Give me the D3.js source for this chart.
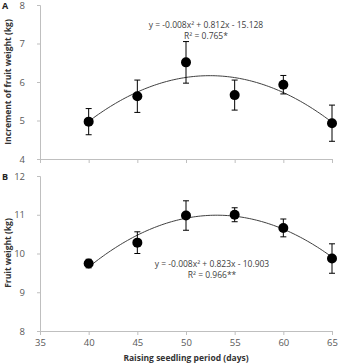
<!DOCTYPE html>
<html>
<head>
<meta charset="utf-8">
<script src="https://cdn.jsdelivr.net/npm/d3@7"></script>
<style>
  body { margin: 0; background: #fff; }
  text { font-family: "Open Sans", "Liberation Sans", sans-serif; }
</style>
</head>
<body>
<svg id="chart" width="341" height="364"></svg>
<script>
// seedling period (days)
let days = [40, 45, 50, 55, 60, 65];
let xTicks = [35, 40, 45, 50, 55, 60, 65];

// panel A: increment of fruit weight (kg)
let incMean = [4.97, 5.63, 6.51, 5.66, 5.93, 4.93];
let incErr = [0.34, 0.42, 0.54, 0.39, 0.24, 0.47];
let incTicks = [4, 5, 6, 7, 8];

// panel B: fruit weight (kg)
let fwMean = [9.74, 10.28, 10.98, 11.0, 10.66, 9.87];
let fwErr = [0.11, 0.28, 0.38, 0.18, 0.23, 0.38];
let fwTicks = [8, 9, 10, 11, 12];

let svg = d3.select("#chart");
let axisColor = "#bfbfbf";
let labelColor = "#595959";

let x = d3.scaleLinear().domain([35, 65]).range([40, 332]);

// least squares quadratic (trend line of the excel chart)
let quadFit = function (xs, ys) {
  let n = xs.length;
  let s = [0, 0, 0, 0, 0], t = [0, 0, 0];
  for (let i = 0; i < n; i++) {
    let p = 1;
    for (let k = 0; k < 5; k++) { s[k] += p; if (k < 3) t[k] += p * ys[i]; p *= xs[i]; }
  }
  // solve 3x3 normal equations
  let m = [
    [s[0], s[1], s[2], t[0]],
    [s[1], s[2], s[3], t[1]],
    [s[2], s[3], s[4], t[2]]
  ];
  for (let c = 0; c < 3; c++) {
    for (let r = c + 1; r < 3; r++) {
      let f = m[r][c] / m[c][c];
      for (let k = c; k < 4; k++) m[r][k] -= f * m[c][k];
    }
  }
  let coef = [0, 0, 0];
  for (let r = 2; r >= 0; r--) {
    let v = m[r][3];
    for (let k = r + 1; k < 3; k++) v -= m[r][k] * coef[k];
    coef[r] = v / m[r][r];
  }
  return function (v) { return coef[0] + coef[1] * v + coef[2] * v * v; };
};

let drawPanel = function (opts) {
  let y = d3.scaleLinear().domain(opts.domain).range(opts.range);
  let g = svg.append("g");

  // y axis
  let yAxis = g.append("g")
    .attr("transform", "translate(" + x(35) + ",0)")
    .call(d3.axisLeft(y).tickValues(opts.yTicks).tickSize(3).tickPadding(12).tickFormat(d3.format("d")));
  yAxis.select(".domain").attr("stroke", axisColor);
  yAxis.selectAll(".tick line").attr("stroke", axisColor);
  yAxis.selectAll(".tick text").attr("fill", labelColor).style("font-size", "9.5px");

  // x axis
  let xAxis = g.append("g")
    .attr("transform", "translate(0," + y(opts.domain[0]) + ")")
    .call(d3.axisBottom(x).tickValues(xTicks).tickSize(4).tickSizeOuter(0).tickPadding(4)
      .tickFormat(opts.showX ? d3.format("d") : ""));
  xAxis.select(".domain").attr("stroke", axisColor);
  xAxis.selectAll(".tick line").attr("stroke", axisColor);
  xAxis.selectAll(".tick text").attr("fill", labelColor).style("font-size", "9.5px");

  // trend line
  let fit = quadFit(days, opts.mean);
  let pts = d3.range(40, 65.01, 0.25);
  g.append("path")
    .datum(pts)
    .attr("fill", "none")
    .attr("stroke", "#404040")
    .attr("stroke-width", 1)
    .attr("d", d3.line().x(function (d) { return x(d); }).y(function (d) { return y(fit(d)); }));

  // error bars
  let eb = g.selectAll(".eb").data(days).enter().append("g").attr("class", "eb");
  eb.append("line")
    .attr("x1", function (d) { return x(d); })
    .attr("x2", function (d) { return x(d); })
    .attr("y1", function (d, i) { return y(opts.mean[i] - opts.err[i]); })
    .attr("y2", function (d, i) { return y(opts.mean[i] + opts.err[i]); })
    .attr("stroke", "#000").attr("stroke-width", 1);
  [-1, 1].forEach(function (s) {
    eb.append("line")
      .attr("x1", function (d) { return x(d) - 3; })
      .attr("x2", function (d) { return x(d) + 3; })
      .attr("y1", function (d, i) { return y(opts.mean[i] + s * opts.err[i]); })
      .attr("y2", function (d, i) { return y(opts.mean[i] + s * opts.err[i]); })
      .attr("stroke", "#000").attr("stroke-width", 1);
  });

  // points
  g.selectAll(".dot").data(days).enter().append("circle")
    .attr("cx", function (d) { return x(d); })
    .attr("cy", function (d, i) { return y(opts.mean[i]); })
    .attr("r", 5)
    .attr("fill", "#000");

  // equation
  g.append("text")
    .attr("x", opts.eqX).attr("y", opts.eqY)
    .attr("text-anchor", "middle").attr("fill", "#404040").style("font-size", "8.5px")
    .text(opts.eq);
  g.append("text")
    .attr("x", opts.eqX).attr("y", opts.eqY + 10.5)
    .attr("text-anchor", "middle").attr("fill", "#404040").style("font-size", "8.5px")
    .text(opts.r2);

  // y title
  g.append("text")
    .attr("transform", "translate(11," + opts.titleY + ") rotate(-90)")
    .attr("text-anchor", "middle")
    .attr("fill", "#333")
    .style("font-size", "8.5px").style("font-weight", "bold")
    .text(opts.title);

  // panel letter
  g.append("text")
    .attr("x", 2).attr("y", opts.letterY)
    .attr("fill", "#222")
    .style("font-size", "9px").style("font-weight", "bold")
    .text(opts.letter);
};

drawPanel({
  domain: [4, 8], range: [159, 5], yTicks: incTicks, mean: incMean, err: incErr,
  showX: false, eq: "y = -0.008x\u00b2 + 0.812x - 15.128", r2: "R\u00b2 = 0.765*",
  eqX: 206, eqY: 28, title: "Increment of fruit weight (kg)", titleY: 82,
  letter: "A", letterY: 9
});

drawPanel({
  domain: [8, 12], range: [331, 176], yTicks: fwTicks, mean: fwMean, err: fwErr,
  showX: true, eq: "y = -0.008x\u00b2 + 0.823x - 10.903", r2: "R\u00b2 = 0.966**",
  eqX: 212, eqY: 267, title: "Fruit weight (kg)", titleY: 253,
  letter: "B", letterY: 180
});

// x title
svg.append("text")
  .attr("x", 186).attr("y", 361)
  .attr("text-anchor", "middle")
  .attr("fill", "#333")
  .style("font-size", "8.5px").style("font-weight", "bold")
  .text("Raising seedling period (days)");
</script>
</body>
</html>
